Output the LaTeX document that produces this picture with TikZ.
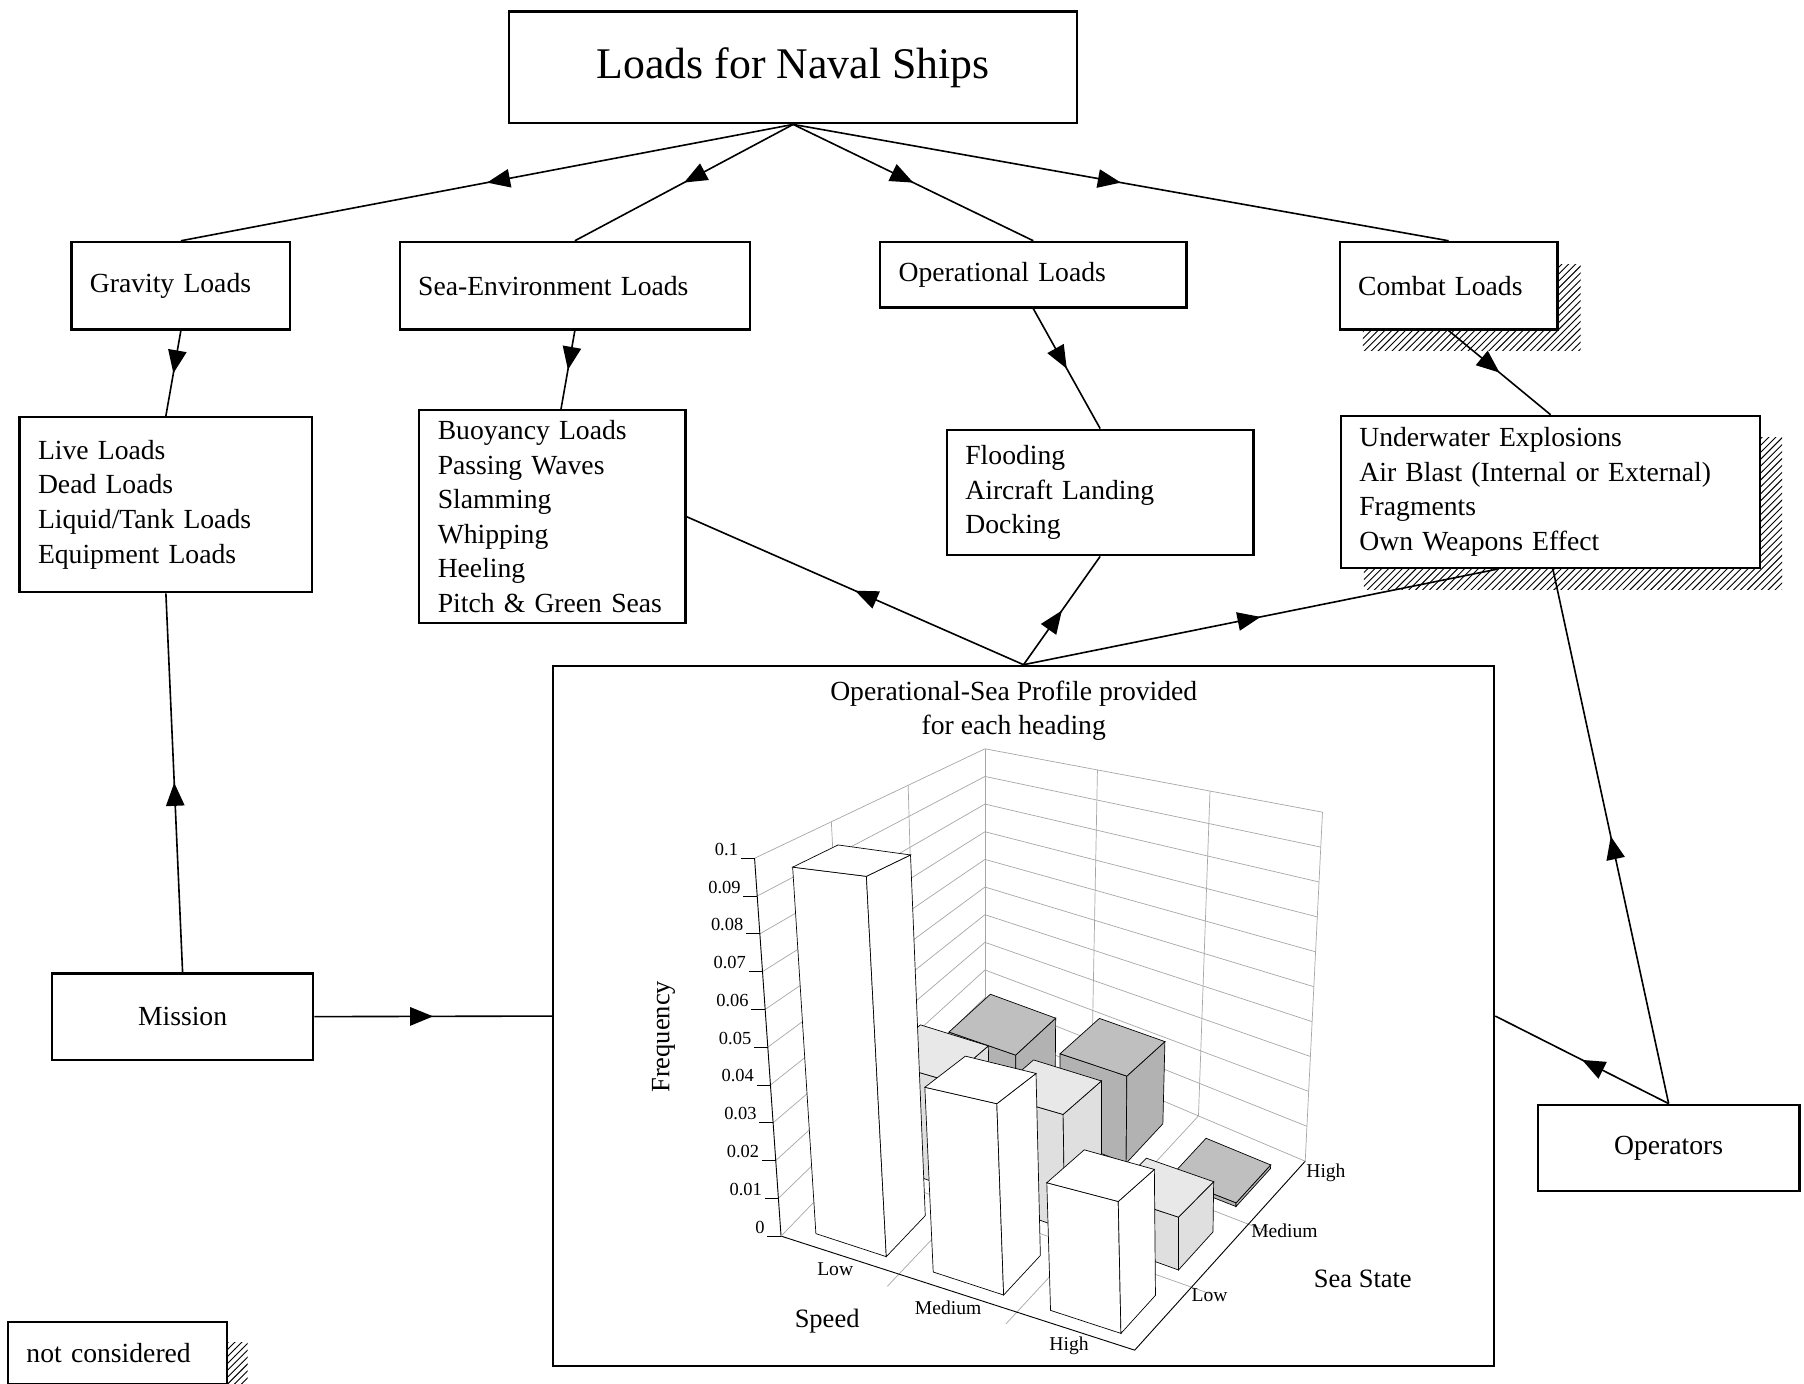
\documentclass[tikz,border=0pt]{standalone}
\usepackage{fontspec}
\setmainfont{Liberation Serif}
\usetikzlibrary{calc,arrows.meta,decorations.markings,patterns}
\newcommand\mkpt[4]{%
 \coordinate (tmpA) at ($(L)!#2!(F)$);
 \coordinate (tmpB) at ($(B)!#2!(R)$);
 \coordinate (tmpC) at ($(LT)!#2!(FT)$);
 \coordinate (tmpD) at ($(BT)!#2!(RT)$);
 \coordinate (tmpE) at ($(tmpA)!#3!(tmpB)$);
 \coordinate (tmpF) at ($(tmpC)!#3!(tmpD)$);
 \coordinate (#1) at ($(tmpE)!#4!(tmpF)$);}
\newcommand\mybox[5]{%
 \pgfmathsetmacro\aa{#1/3+0.07}\pgfmathsetmacro\ab{\aa+0.2}%
 \pgfmathsetmacro\ba{#2/3+0.05}\pgfmathsetmacro\bb{\ba+0.2}%
 \mkpt{p1}{\aa}{\ba}{0}\mkpt{p2}{\ab}{\ba}{0}\mkpt{p3}{\ab}{\bb}{0}%
 \mkpt{q1}{\aa}{\ba}{#3}\mkpt{q2}{\ab}{\ba}{#3}\mkpt{q3}{\ab}{\bb}{#3}\mkpt{q4}{\aa}{\bb}{#3}%
 \draw[barline,fill=#4] (p1)--(p2)--(q2)--(q1)--cycle;
 \draw[barline,fill=#4] (p2)--(p3)--(q3)--(q2)--cycle;
 \draw[barline,fill=#5] (q1)--(q2)--(q3)--(q4)--cycle;}
\tikzset{
 box/.style={draw,line width=1pt,fill=white,font=\fontsize{12}{15}\selectfont,inner xsep=8pt,inner ysep=2pt},
 midarrow/.style={decoration={markings,mark=at position 0.5 with {\arrow{Triangle[length=10pt,width=8pt]}}},postaction={decorate}},
 conn/.style={line width=0.7pt,midarrow},
 grid/.style={gray!70,line width=0.3pt},
 barline/.style={line width=0.3pt},
 tick/.style={font=\fontsize{8}{9}\selectfont,inner sep=1pt},
 shadow/.style={pattern=north east lines,draw=none}
}
\begin{document}
\begin{tikzpicture}[x=0.5pt,y=-0.5pt]
\useasboundingbox (0,0) rectangle (1566,1201);
% shadows
\fill[shadow] (1183,230) rectangle (1372,304);
\fill[shadow] (1184,380) rectangle (1547,512);
\fill[shadow] (17,1165) rectangle (215,1205);
% boxes
\node[box,minimum width=246.5pt,minimum height=48.5pt,align=center,font=\fontsize{19}{23}\selectfont] (title) at (688.5,58.5) {Loads for Naval Ships};
\node[box,minimum width=95pt,minimum height=38pt,text width=79pt,align=left] (gravity) at (157,248) {Gravity Loads};
\node[box,minimum width=152pt,minimum height=38pt,text width=136pt,align=left] (sea) at (499,248) {Sea-Environment Loads};
\node[box,minimum width=133pt,minimum height=28.5pt,text width=117pt,align=left] (oper) at (897,238.5) {Operational Loads};
\node[box,minimum width=94.5pt,minimum height=38pt,text width=78.5pt,align=left] (combat) at (1257.5,248) {Combat Loads};
\node[box,minimum width=127pt,minimum height=76pt,text width=111pt,align=left] (live) at (144,438) {Live Loads\\Dead Loads\\Liquid/Tank Loads\\Equipment Loads};
\node[box,minimum width=115.5pt,minimum height=92.5pt,text width=99.5pt,align=left] (buoy) at (479.5,448.5) {Buoyancy Loads\\Passing Waves\\Slamming\\Whipping\\Heeling\\Pitch \& Green Seas};
\node[box,minimum width=133pt,minimum height=54.5pt,text width=117pt,align=left] (flood) at (955,427.5) {Flooding\\Aircraft Landing\\Docking};
\node[box,minimum width=182pt,minimum height=66pt,text width=166pt,align=left] (under) at (1346,427) {Underwater Explosions\\Air Blast (Internal or External)\\Fragments\\Own Weapons Effect};
\node[box,minimum width=408.5pt,minimum height=304pt] (chart) at (888.5,882) {};
\node[box,minimum width=113.5pt,minimum height=37.5pt,align=center] (mission) at (158.5,882.5) {Mission};
\node[box,minimum width=113.5pt,minimum height=37.5pt,align=center] (ops) at (1448.5,996.5) {Operators};
\node[box,minimum width=95pt,minimum height=27pt,text width=79pt,align=left] (notc) at (102,1174.5) {not considered};
% connectors
\draw[conn] (title.south) -- (gravity.north);
\draw[conn] (title.south) -- (sea.north);
\draw[conn] (title.south) -- (oper.north);
\draw[conn] (title.south) -- (combat.north);
\draw[conn] (gravity.south) -- (live.north);
\draw[conn] (sea.south) -- ([xshift=3.75pt]buoy.north);
\draw[conn] (oper.south) -- (flood.north);
\draw[conn] (combat.south) -- (under.north);
\draw[conn] (chart.north) -- (buoy.east);
\draw[conn] (chart.north) -- (flood.south);
\draw[conn] (chart.north) -- ([xshift=-23pt]under.south);
\draw[conn] (ops.north) -- ([xshift=1pt]under.south);
\draw[conn] (ops.north) -- (chart.east);
\draw[conn] (mission.north) -- (live.south);
\draw[conn] (mission.east) -- (chart.west);
% chart
\node[align=center,font=\fontsize{12}{15}\selectfont] (ctitle) at (880,617) {Operational-Sea Profile provided\\for each heading};
\coordinate (L) at (678,1073);
\coordinate (F) at (985,1172);
\coordinate (R) at (1133,1008);
\coordinate (B) at (855,890);
\coordinate (LT) at (655,745);
\coordinate (BT) at (855,650);
\coordinate (RT) at (1148,705);
\coordinate (FT) at (977,782);
\foreach \k in {1,...,10}{
 \pgfmathsetmacro\hh{\k/10}
 \mkpt{g1}{0}{0}{\hh}\mkpt{g2}{0}{1}{\hh}\mkpt{g3}{1}{1}{\hh}
 \draw[grid] (g1)--(g2)--(g3);}
\foreach \s in {0.3333,0.6667,1}{
 \mkpt{v1}{0}{\s}{0}\mkpt{v2}{0}{\s}{1}\draw[grid] (v1)--(v2);
 \mkpt{w1}{\s}{1}{0}\mkpt{w2}{\s}{1}{1}\draw[grid] (w1)--(w2);}
\foreach \s in {0.3333,0.6667}{
 \mkpt{f1}{\s}{0}{0}\mkpt{f2}{\s}{1}{0}\draw[grid] ($(f1)!-0.06!(f2)$)--(f2);
 \mkpt{f3}{0}{\s}{0}\mkpt{f4}{1}{\s}{0}\draw[grid] (f3)--($(f4)!-0.06!(f3)$);}
\draw[line width=0.4pt] (LT)--(L)--(F)--(R);
\draw[grid] (L)--(B)--(R);
\foreach \k/\lab in {0/0,1/0.01,2/0.02,3/0.03,4/0.04,5/0.05,6/0.06,7/0.07,8/0.08,9/0.09,10/0.1}{
 \pgfmathsetmacro\hh{\k/10}
 \mkpt{t}{0}{0}{\hh}
 \draw[line width=0.4pt] (t)--++(-12,0) node[tick,anchor=south east] {\lab};}
% bars (back to front)
\mybox{0}{2}{0.2}{gray!60}{gray!50}
\mybox{1}{2}{0.25}{gray!60}{gray!50}
\mybox{2}{2}{0.01}{gray!60}{gray!50}
\mybox{0}{1}{0.3}{gray!25}{gray!18}
\mybox{1}{1}{0.3}{gray!25}{gray!18}
\mybox{2}{1}{0.13}{gray!25}{gray!18}
\mybox{0}{0}{0.97}{white}{white}
\mybox{1}{0}{0.46}{white}{white}
\mybox{2}{0}{0.30}{white}{white}
% axis labels
\node[rotate=90,font=\fontsize{11.5}{13}\selectfont] (freq) at (576,900) {Frequency};
\node[font=\fontsize{11.5}{13}\selectfont] (speed) at (718,1147) {Speed};
\node[font=\fontsize{11.5}{13}\selectfont] (seast) at (1183,1110) {Sea State};
\node[tick,font=\fontsize{8.5}{10}\selectfont] (sl) at (725,1102) {Low};
\node[tick,font=\fontsize{8.5}{10}\selectfont] (sm) at (823,1135) {Medium};
\node[tick,font=\fontsize{8.5}{10}\selectfont] (sh) at (928,1168) {High};
\node[tick,font=\fontsize{8.5}{10}\selectfont] (el) at (1050,1124) {Low};
\node[tick,font=\fontsize{8.5}{10}\selectfont] (em) at (1115,1068) {Medium};
\node[tick,font=\fontsize{8.5}{10}\selectfont] (eh) at (1151,1018) {High};
\end{tikzpicture}
\end{document}
